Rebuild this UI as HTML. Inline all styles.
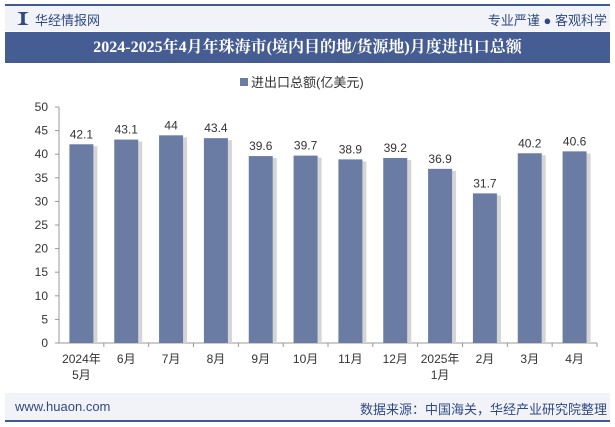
<!DOCTYPE html>
<html><head><meta charset="utf-8"><style>
body{margin:0;width:615px;height:427px;background:#fff;font-family:"Liberation Sans","Noto Sans CJK SC",sans-serif;overflow:hidden;position:relative}
</style></head><body>
<div style="position:absolute;left:5px;top:4px;width:605px;height:2px;background:#3f5a95"></div>
<div style="position:absolute;left:5px;top:6px;width:605px;height:25px;background:#f1f3f8"></div>
<div style="position:absolute;left:17px;top:12px;width:12px;height:13px;background:#2f4a80;clip-path:polygon(0 0,35% 15%,35% 85%,0 100%,100% 100%,65% 85%,65% 15%,100% 0)"></div>
<div style="position:absolute;left:35px;top:10px;font-size:13px;color:#2f4a80">华经情报网</div>
<div style="position:absolute;right:8px;top:10px;font-size:13px;color:#2f4a80">专业严谨 ● 客观科学</div>
<div style="position:absolute;left:5px;top:32px;width:605px;height:31px;background:#455d93;color:#fff;font-family:'Liberation Serif','Noto Serif CJK SC',serif;font-weight:bold;font-size:16px;line-height:31px;text-align:center">2024-2025年4月年珠海市(境内目的地/货源地)月度进出口总额</div>
<div style="position:absolute;left:5px;top:393px;width:605px;height:27px;background:#f1f3f8"></div>
<div style="position:absolute;left:15px;top:399px;font-size:13px;color:#2f4a80">www.huaon.com</div>
<div style="position:absolute;right:8px;top:399px;font-size:13px;color:#2f4a80">数据来源：中国海关，华经产业研究院整理</div>
<div style="position:absolute;left:5px;top:420px;width:605px;height:2px;background:#3f5a95"></div>
<svg id="chart" width="615" height="427" style="position:absolute;left:0;top:0"></svg>
<script>
const categories=["2024年\n5月","6月","7月","8月","9月","10月","11月","12月","2025年\n1月","2月","3月","4月"];
const values=[42.1,43.1,44,43.4,39.6,39.7,38.9,39.2,36.9,31.7,40.2,40.6];
const yTicks=[0,5,10,15,20,25,30,35,40,45,50];
const NS="http://www.w3.org/2000/svg";
const svg=document.getElementById("chart");
const x0=59,x1=597,yTop=107,yBot=343,yMax=50;
const band=(x1-x0)/categories.length;
const y=v=>yBot-(v/yMax)*(yBot-yTop);
const xc=i=>x0+band*(i+0.5);
function el(t,a,txt){const e=document.createElementNS(NS,t);for(const k in a)e.setAttribute(k,a[k]);if(txt!==undefined)e.textContent=txt;svg.appendChild(e);return e;}
const leg=el("rect",{x:240,y:78,width:8,height:8,fill:"#6a7ca3"});


const lt=el("text",{x:251,y:87,"font-size":13,fill:"#333"},"进出口总额(亿美元)");


const ya=el("line",{x1:x0,y1:yTop,x2:x0,y2:yBot,stroke:"#999"});


yTicks.forEach(t=>{
 const tk=el("line",{x1:x0-4,y1:y(t),x2:x0,y2:y(t),stroke:"#999"});
 
 
 const tl=el("text",{x:x0-11,y:y(t)+4,"font-size":12,fill:"#333","text-anchor":"end"},t);
 
 
});
const xa=el("line",{x1:x0,y1:yBot,x2:x1,y2:yBot,stroke:"#999"});


const bw=24;
values.forEach((v,i)=>{
 const sh=el("rect",{x:xc(i)-bw/2+bw,y:y(v)+2,width:4,height:yBot-y(v)-2,fill:"#d5d5d5"});
 
 
 const b=el("rect",{x:xc(i)-bw/2,y:y(v),width:bw,height:yBot-y(v),fill:"#6a7ca3"});
 
 
 const l=el("text",{x:xc(i),y:y(v)-6,"font-size":12,fill:"#333","text-anchor":"middle"},v);
 
 
 const tk=el("line",{x1:x0+band*(i+1),y1:yBot,x2:x0+band*(i+1),y2:yBot+4,stroke:"#999"});
 
 
 categories[i].split("\n").forEach((s,j)=>{
  const c=el("text",{x:xc(i),y:yBot+20+j*16,"font-size":12,fill:"#333","text-anchor":"middle"},s);
  
  
 });
});
</script>
</body></html>
